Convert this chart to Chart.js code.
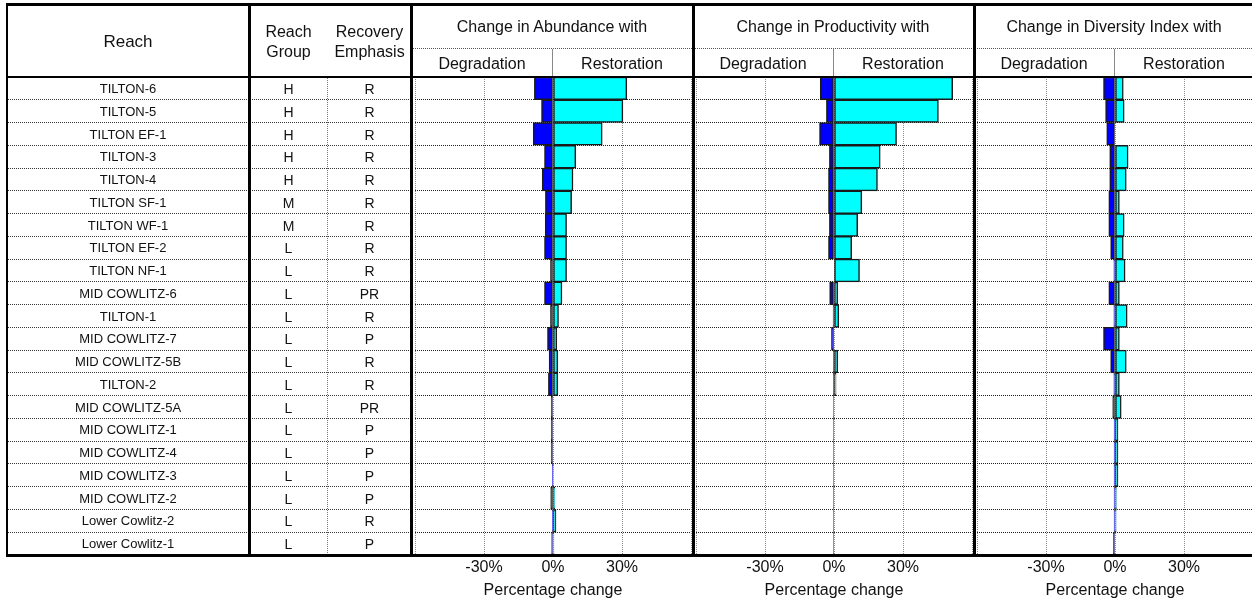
<!DOCTYPE html>
<html><head><meta charset="utf-8">
<script src="https://cdn.jsdelivr.net/npm/chart.js@4/dist/chart.umd.min.js"></script>
<style>
html,body{margin:0;padding:0;background:#fff;overflow:hidden;}
#root{position:relative;width:1252px;height:602px;overflow:hidden;font-family:"Liberation Sans",Arial,sans-serif;color:#111;}
</style></head><body><div id="root"></div>
<script>
const reaches = ['TILTON-6','TILTON-5','TILTON EF-1','TILTON-3','TILTON-4','TILTON SF-1','TILTON WF-1','TILTON EF-2','TILTON NF-1','MID COWLITZ-6','TILTON-1','MID COWLITZ-7','MID COWLITZ-5B','TILTON-2','MID COWLITZ-5A','MID COWLITZ-1','MID COWLITZ-4','MID COWLITZ-3','MID COWLITZ-2','Lower Cowlitz-2','Lower Cowlitz-1'];
const reachGroups = ['H','H','H','H','H','M','M','L','L','L','L','L','L','L','L','L','L','L','L','L','L'];
const recoveryEmphasis = ['R','R','R','R','R','R','R','R','R','PR','R','P','R','R','PR','P','P','P','P','R','P'];

const abundanceDegradation = [-8.1,-5.0,-8.6,-3.7,-4.7,-3.3,-3.4,-3.7,-1.1,-3.7,-1.1,-2.4,-1.7,-2.0,-0.8,-0.8,-0.8,-0.3,-1.0,-0.3,-0.6];
const abundanceRestoration = [32.1,30.4,21.4,9.9,8.7,8.1,5.9,5.9,5.9,3.9,2.4,1.6,2.1,2.1,0,0,0,0.2,0.8,1.3,0.4];
const productivityDegradation = [-6.0,-3.3,-6.3,-2.0,-2.4,-2.4,-2.0,-2.4,0,-1.9,-0.4,-1.1,-0.3,-0.3,-0.2,-0.2,-0.2,-0.2,-0.2,-0.2,-0.2];
const productivityRestoration = [51.6,45.4,27.2,20.1,18.9,12.1,10.3,7.7,11.1,1.6,2.1,0,1.6,0.9,0,0,0,0,0,0,0];
const diversityDegradation = [-5.0,-4.1,-3.6,-2.3,-2.3,-2.7,-2.7,-1.9,-0.5,-2.7,-0.5,-5.0,-1.9,-0.5,-1.0,-0.4,-0.4,-0.4,-0.4,-0.4,-0.7];
const diversityRestoration = [3.6,4.0,0,5.7,4.9,1.9,4.0,3.6,4.4,1.9,5.3,1.9,4.9,1.9,2.7,1.3,1.3,1.3,0.6,0.5,0];

const panelTitles = ['Change in Abundance with','Change in Productivity with','Change in Diversity Index with'];
const subHeaders = ['Degradation','Restoration'];
const tickLabelValues = [-30, 0, 30];
const axisTitle = 'Percentage change';
const tableHeaders = ['Reach', ['Reach','Group'], ['Recovery','Emphasis']];

const root = document.getElementById('root');
function box(l,t,w,h,style){
  const d=document.createElement('div');
  d.style.cssText=`position:absolute;left:${l}px;top:${t}px;width:${w}px;height:${h}px;${style||''}`;
  root.appendChild(d); return d;
}
function text(l,t,w,h,str,size){
  const d=box(l,t,w,h,`font-size:${size}px;line-height:${h}px;text-align:center;white-space:nowrap;`);
  d.textContent=str; return d;
}

const T0 = 77, B0 = 555, N = reaches.length, rowH = (B0 - T0) / N;
const panelLefts = [412, 693, 974];
const panelW = 280;
const panelData = [
  [abundanceDegradation, abundanceRestoration],
  [productivityDegradation, productivityRestoration],
  [diversityDegradation, diversityRestoration]
];

Chart.defaults.font.family = '"Liberation Sans", Arial, sans-serif';
Chart.defaults.color = '#111';

panelData.forEach((pd, k) => {
  const c = document.createElement('canvas');
  c.width = panelW + 2; c.height = 602 - T0;
  c.style.cssText = `position:absolute;left:${panelLefts[k]}px;top:${T0}px;width:${panelW+2}px;height:${602-T0}px;`;
  root.appendChild(c);
  const ds = (data, color, label) => ({
    label, data, backgroundColor: color, borderColor: '#1a1a1a', borderWidth: 1.5,
    borderSkipped: false, grouped: false, barPercentage: 1, categoryPercentage: 1
  });
  new Chart(c, {
    type: 'bar',
    data: { labels: reaches, datasets: [ds(pd[0], '#0000FF', subHeaders[0]), ds(pd[1], '#00FFFF', subHeaders[1])] },
    options: {
      indexAxis: 'y', responsive: false, animation: false,
      layout: { padding: { left: 0, right: 2, top: 0, bottom: 0 } },
      plugins: { legend: { display: false }, tooltip: { enabled: false } },
      scales: {
        x: {
          type: 'linear', min: -60, max: 60, position: 'bottom',
          afterFit: s => { s.height = 602 - B0; },
          ticks: { stepSize: 30, autoSkip: false, maxRotation: 0, padding: 3, color: '#111', font: { size: 16 },
                   callback: v => tickLabelValues.includes(v) ? v + '%' : '' },
          grid: { color: '#8a8a8a', lineWidth: 1, drawTicks: false },
          border: { display: false, dash: [1, 1] },
          title: { display: true, text: axisTitle, color: '#111', font: { size: 16 }, padding: { top: 0, bottom: 2 } }
        },
        y: {
          afterFit: s => { s.width = 0; },
          ticks: { display: false },
          grid: { color: '#222', lineWidth: 1, drawTicks: false, offset: true },
          border: { display: false, dash: [1, 1] }
        }
      }
    }
  });
});

// table row separators
for (let i = 1; i < N; i++) {
  const y = Math.round(T0 + i * rowH - 0.5);
  box(7, y, 404, 0, 'border-top:1px dotted #333;');
}
// dotted column separator
box(327, T0, 0, B0 - T0, 'border-left:1px dotted #777;');
// header middle dotted line across panels
box(411, 48, 841, 0, 'border-top:1px dotted #555;');
// zero dividers in subheader
panelLefts.forEach(l => box(l + panelW / 2, 49, 1, 28, 'background:#888;'));
// header bottom line
box(7, 76, 1245, 2, 'background:#000;');
// outer and thick lines
box(6, 3, 1246, 3, 'background:#000;');
box(6, 3, 2, 553, 'background:#000;');
box(6, 554, 1246, 3, 'background:#000;');
[248, 410, 692, 973].forEach(x => box(x, 3, 3, 553, 'background:#000;'));

// table header texts
text(7, 32, 242, 20, tableHeaders[0], 17);
const g = box(249, 22, 79, 40, 'font-size:16px;line-height:20px;text-align:center;white-space:nowrap;');
g.innerHTML = tableHeaders[1].join('<br>');
const e = box(328, 22, 83, 40, 'font-size:16px;line-height:20px;text-align:center;white-space:nowrap;');
e.innerHTML = tableHeaders[2].join('<br>');

// table rows
reaches.forEach((r, i) => {
  const t = T0 + i * rowH + 1;
  text(7, t, 242, rowH, r, 13);
  text(249, t, 79, rowH, reachGroups[i], 14);
  text(328, t, 83, rowH, recoveryEmphasis[i], 14);
});

// panel headers
panelLefts.forEach((l, k) => {
  text(l, 17, panelW, 20, panelTitles[k], 16);
  text(l, 54, panelW / 2, 20, subHeaders[0], 16);
  text(l + panelW / 2, 54, panelW / 2, 20, subHeaders[1], 16);
});
</script>
</body></html>
